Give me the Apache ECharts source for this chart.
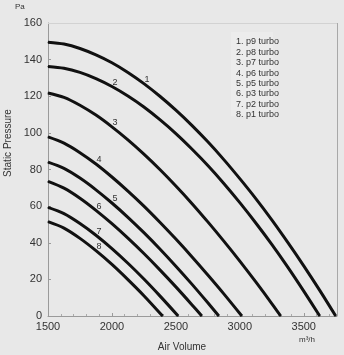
<!DOCTYPE html>
<html>
<head>
<meta charset="utf-8">
<script src="https://cdn.jsdelivr.net/npm/echarts@6/dist/echarts.min.js"></script>
<style>
html,body{margin:0;padding:0;background:#e8e8e8;}
#c{width:344px;height:355px;}
</style>
</head>
<body>
<div id="c"></div>
<script>
// Data (air volume m³/h, static pressure Pa)
const seriesNames = ['p9 turbo','p8 turbo','p7 turbo','p6 turbo','p5 turbo','p3 turbo','p2 turbo','p1 turbo'];
const curveLabels = ['1','2','3','4','5','6','7','8'];
const xTicks = [1500, 2000, 2500, 3000, 3500];
const yTicks = [0, 20, 40, 60, 80, 100, 120, 140, 160];

const c1 = [[1500,149.5],[1625,148.5],[1750,146.1],[1875,142.6],[2000,138.3],[2125,133.0],[2250,126.9],[2375,120.0],[2500,112.4],[2625,104.1],[2750,95.1],[2875,85.4],[3000,75.0],[3125,64.1],[3250,52.5],[3375,40.2],[3500,27.4],[3625,14.0],[3750,0]];
const c2 = [[1500,136.3],[1625,135.3],[1750,133.0],[1875,129.6],[2000,125.3],[2125,120.1],[2250,114.1],[2375,107.2],[2500,99.6],[2625,91.2],[2750,82.2],[2875,72.4],[3000,61.9],[3125,50.8],[3250,39.1],[3375,26.7],[3500,13.6],[3625,0]];
const c3 = [[1500,121.8],[1625,119.4],[1750,115.1],[1875,109.7],[2000,103.3],[2125,96.2],[2250,88.4],[2375,80.0],[2500,71.0],[2625,61.5],[2750,51.4],[2875,40.9],[3000,30.0],[3125,18.6],[3250,6.8],[3320,0]];
const c4 = [[1500,97.8],[1625,94.4],[1750,89.2],[1875,83.0],[2000,75.9],[2125,68.2],[2250,60.0],[2375,51.2],[2500,42.0],[2625,32.4],[2750,22.4],[2875,12.1],[3016,0]];
const c5 = [[1500,84.0],[1625,80.6],[1750,75.3],[1875,68.9],[2000,61.7],[2125,53.9],[2250,45.5],[2375,36.6],[2500,27.2],[2625,17.4],[2750,7.2],[2836,0]];
const c6 = [[1500,73.5],[1625,69.8],[1750,64.3],[1875,57.7],[2000,50.4],[2125,42.5],[2250,34.1],[2375,25.2],[2500,15.9],[2625,6.2],[2703,0]];
const c7 = [[1500,59.3],[1625,55.9],[1750,50.5],[1875,44.1],[2000,36.8],[2125,28.8],[2250,20.2],[2375,11.0],[2518,0]];
const c8 = [[1500,51.5],[1625,48.0],[1750,42.4],[1875,35.7],[2000,28.2],[2125,19.9],[2250,11.1],[2396,0]];
const curves = [c1,c2,c3,c4,c5,c6,c7,c8];
// x position (m³/h) where each curve's number label sits
const labelAt = [2250, 2000, 2000, 1875, 2000, 1875, 1875, 1875];

const chart = echarts.init(document.getElementById('c'), null, {renderer:'canvas'});
const font = 'Liberation Sans, Arial, sans-serif';

const series = curves.map((d, i) => ({
  name: seriesNames[i],
  type: 'line',
  smooth: 0.3,
  symbol: 'circle',
  symbolSize: 1,
  showSymbol: true,
  showAllSymbol: true,
  lineStyle: {color: '#111', width: 3},
  itemStyle: {color: '#111'},
  z: 3,
  label: {show: false},
  data: d.map(p => p[0] === labelAt[i]
    ? {value: p, label: {show: true, formatter: curveLabels[i], position: 'top', distance: 0, offset: [3, 1],
        fontSize: 9, color: '#333', fontFamily: font}}
    : {value: p}),
  silent: true
}));

chart.setOption({
  backgroundColor: '#e8e8e8',
  animation: false,
  grid: {left: 48, right: 7, top: 23, bottom: 39, show: false},
  legend: {
    data: seriesNames,
    orient: 'vertical',
    left: 226, top: 32,
    icon: 'none',
    itemWidth: 0, itemHeight: 10, itemGap: 0.4,
    selectedMode: false,
    formatter: n => (seriesNames.indexOf(n) + 1) + '. ' + n,
    textStyle: {fontSize: 9, color: '#333', fontFamily: font, lineHeight: 10}
  },
  xAxis: {
    type: 'value', min: 1500, max: 3760, interval: 500,
    axisLine: {show: true, lineStyle: {color: '#9a9a9a', width: 1}},
    axisTick: {show: true, inside: true, length: 3, lineStyle: {color: '#9a9a9a'}},
    minorTick: {show: true, splitNumber: 5, length: 2, lineStyle: {color: '#aaa'}},
    splitLine: {show: false},
    axisLabel: {fontSize: 11, color: '#333', fontFamily: font, margin: 5,
      formatter: v => xTicks.indexOf(v) >= 0 ? String(v) : ''}
  },
  yAxis: {
    type: 'value', min: 0, max: 160, interval: 20,
    axisLine: {show: true, lineStyle: {color: '#9a9a9a', width: 1}},
    axisTick: {show: true, inside: true, length: 3, lineStyle: {color: '#9a9a9a'}},
    splitLine: {show: false},
    axisLabel: {fontSize: 11, color: '#333', fontFamily: font, margin: 6,
      formatter: v => yTicks.indexOf(v) >= 0 ? String(v) : ''}
  },
  graphic: [
    {type: 'rect', shape: {x: 231, y: 32, width: 42, height: 84}, style: {fill: '#ececec'}, z: 0, silent: true},
    {type: 'line', shape: {x1: 48, y1: 23.5, x2: 337.5, y2: 23.5}, style: {stroke: '#d2d2d2', lineWidth: 1}, z: 1, silent: true},
    {type: 'line', shape: {x1: 337.5, y1: 23, x2: 337.5, y2: 316}, style: {stroke: '#a8a8a8', lineWidth: 1}, z: 1, silent: true},
    {type: 'text', left: 15, top: 3, style: {text: 'Pa', fontSize: 8, fill: '#333', fontFamily: font}},
    {type: 'text', x: 8, y: 143, rotation: Math.PI / 2,
      style: {text: 'Static Pressure', fontSize: 10, fill: '#333', fontFamily: font, align: 'center', verticalAlign: 'middle'}},
    {type: 'text', x: 182, y: 347, style: {text: 'Air Volume', fontSize: 10, fill: '#333', fontFamily: font, align: 'center', verticalAlign: 'middle'}},
    {type: 'text', x: 307, y: 340, style: {text: 'm³/h', fontSize: 8, fill: '#333', fontFamily: font, align: 'center', verticalAlign: 'middle'}}
  ],
  series: series
});
</script>
</body>
</html>
